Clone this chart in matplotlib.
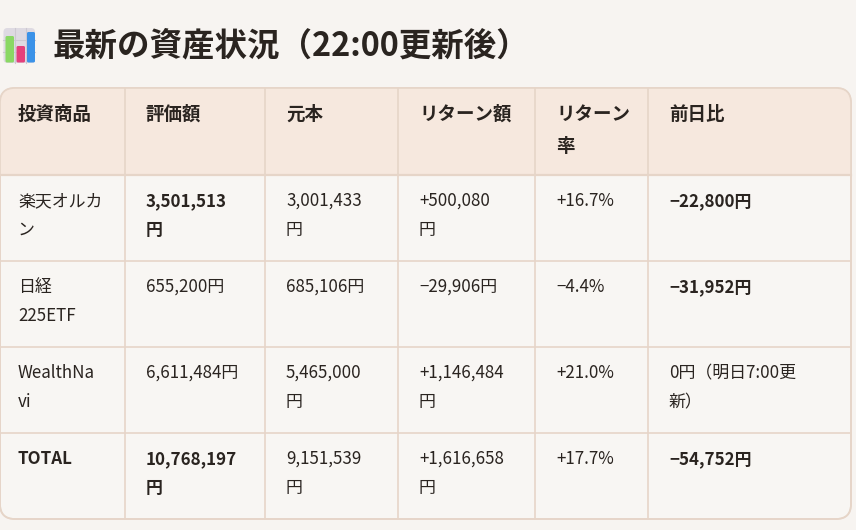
import matplotlib.pyplot as plt
from matplotlib.patches import FancyBboxPatch, Rectangle

plt.rcParams['font.family'] = ['Noto Sans CJK JP', 'DejaVu Sans']

# table content (line breaks as wrapped in the original)
title = '最新の資産状況（22:00更新後）'
headers = ['投資商品', '評価額', '元本', 'リターン額', 'リターン\n率', '前日比']
products = ['楽天オルカ\nン', '日経\n225ETF', 'WealthNa\nvi', 'TOTAL']
valuation = ['3,501,513\n円', '655,200円', '6,611,484円', '10,768,197\n円']
principal = ['3,001,433\n円', '685,106円', '5,465,000\n円', '9,151,539\n円']
ret_amount = ['+500,080\n円', '−29,906円', '+1,146,484\n円', '+1,616,658\n円']
ret_rate = ['+16.7%', '−4.4%', '+21.0%', '+17.7%']
day_change = ['−22,800円', '−31,952円', '0円（明日7:00更\n新）', '−54,752円']
bold_cells = {(0, 1), (0, 5), (1, 5), (3, 0), (3, 1), (3, 5)}

# layout in pixels
W, H = 856, 530
col_x = [0, 125, 265, 398, 535, 648, 851]
row_y = [88, 175, 261, 347, 433, 519]
pads = [18, 21, 21, 21, 21, 21]

bg = '#f7f4f1'
head_bg = '#f6e8de'
body_bg = '#f8f6f3'
line_c = '#e6d5c8'
text_c = '#2a2420'

fig = plt.figure(figsize=(W / 100, H / 100), dpi=100, facecolor=bg)
ax = fig.add_axes([0, 0, 1, 1])
ax.set_xlim(0, W)
ax.set_ylim(H, 0)
ax.axis('off')

# icon (bar chart emoji look-alike)
ax.add_patch(FancyBboxPatch((3.5, 28), 31.5, 35, boxstyle='round,pad=0,rounding_size=4',
                            fc='#dedae2', ec='none', zorder=1))
for gx in (15, 26):
    ax.plot([gx, gx], [28, 63], color='#cdc8d1', lw=0.8, zorder=2)
for gy in (40, 52):
    ax.plot([3.5, 35], [gy, gy], color='#cdc8d1', lw=0.8, zorder=2)
ax.add_patch(FancyBboxPatch((5.5, 36), 8.5, 26.5, boxstyle='round,pad=0,rounding_size=1.5',
                            fc='#8ad864', ec='none', zorder=3))
ax.add_patch(FancyBboxPatch((16.5, 46), 8.5, 16.5, boxstyle='round,pad=0,rounding_size=1.5',
                            fc='#e4407c', ec='none', zorder=3))
ax.add_patch(FancyBboxPatch((27, 32), 8, 30.5, boxstyle='round,pad=0,rounding_size=1.5',
                            fc='#3b92e8', ec='none', zorder=3))

ax.text(53, 46, title, fontsize=23.4, fontweight='bold', color=text_c,
        va='center', ha='left')

# table frame with rounded corners
frame = FancyBboxPatch((col_x[0], row_y[0]), col_x[-1] - col_x[0], row_y[-1] - row_y[0],
                       boxstyle='round,pad=0,rounding_size=15',
                       fc=body_bg, ec=line_c, lw=1.2, zorder=1)
ax.add_patch(frame)
head = Rectangle((col_x[0], row_y[0]), col_x[-1] - col_x[0], row_y[1] - row_y[0],
                 fc=head_bg, ec='none', zorder=2)
ax.add_patch(head)
head.set_clip_path(frame)

for x in col_x[1:-1]:
    ax.plot([x, x], [row_y[0], row_y[-1]], color=line_c, lw=1.2, zorder=3)
for y in row_y[1:-1]:
    ax.plot([col_x[0], col_x[-1]], [y, y], color=line_c, lw=1.6 if y == row_y[1] else 1.2,
            zorder=3)
ax.add_patch(FancyBboxPatch((col_x[0], row_y[0]), col_x[-1] - col_x[0], row_y[-1] - row_y[0],
                            boxstyle='round,pad=0,rounding_size=15',
                            fc='none', ec=line_c, lw=1.2, zorder=4))


def cell_text(c, top, s, bold, step, size):
    for i, line in enumerate(s.split('\n')):
        ax.text(col_x[c] + pads[c], top + 26 + i * step, line, fontsize=size,
                fontweight='bold' if bold else 'normal', color=text_c,
                va='center', ha='left', zorder=5)


for c, h in enumerate(headers):
    cell_text(c, row_y[0], h, True, 32, 13.3)

columns = [products, valuation, principal, ret_amount, ret_rate, day_change]
for r in range(len(products)):
    for c, col in enumerate(columns):
        cell_text(c, row_y[r + 1], col[r], (r, c) in bold_cells, 29, 12.2)

fig.savefig('out.png', dpi=100, facecolor=bg)
